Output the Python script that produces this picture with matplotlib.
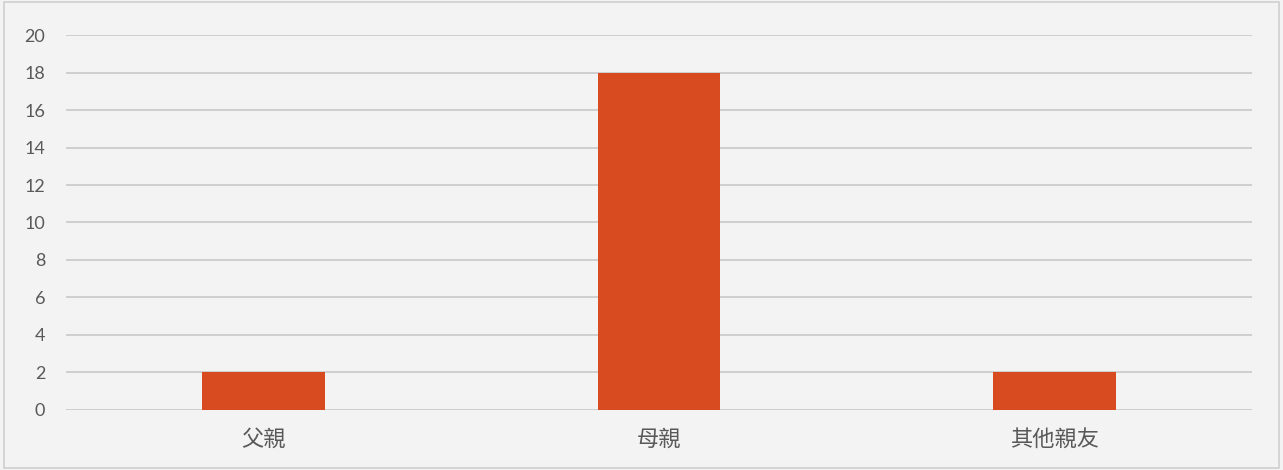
import matplotlib
matplotlib.use("Agg")
import matplotlib.pyplot as plt
from matplotlib.patches import Rectangle

categories = ["父親", "母親", "其他親友"]
values = [2, 18, 2]
yticks = [0, 2, 4, 6, 8, 10, 12, 14, 16, 18, 20]

plt.rcParams['font.family'] = ['Lato', 'Noto Sans CJK TC', 'DejaVu Sans']

fig = plt.figure(figsize=(12.83, 4.70), dpi=100)
fig.patch.set_facecolor('#f3f3f3')
fig.patches.append(Rectangle((0.003, 0.004), 0.994, 0.992, transform=fig.transFigure,
                             fill=False, edgecolor='#d0d0d0', linewidth=1.2))
ax = fig.add_axes([0.0514, 0.1277, 0.9244, 0.7978])
ax.set_facecolor('none')

x = list(range(len(categories)))
ax.bar(x, values, width=0.31, color='#d84b20', zorder=3)
ax.set_xlim(-0.5, 2.5)
ax.set_ylim(0, 20)
ax.set_yticks(yticks)
ax.set_yticklabels([str(v) for v in yticks], fontsize=13, color='#595959', family=['Lato', 'DejaVu Sans'])
ax.set_xticks(x)
ax.set_xticklabels(categories, fontsize=16, color='#595959', family=['Noto Sans CJK TC', 'DejaVu Sans'])
ax.tick_params(axis='y', length=0, pad=15)
ax.tick_params(axis='x', length=0, pad=13)
ax.grid(axis='y', color='#c8c8c8', linewidth=1.2, zorder=0)
ax.set_axisbelow(True)
for s in ax.spines.values():
    s.set_visible(False)

fig.savefig('out.png', dpi=100, facecolor=fig.get_facecolor())
